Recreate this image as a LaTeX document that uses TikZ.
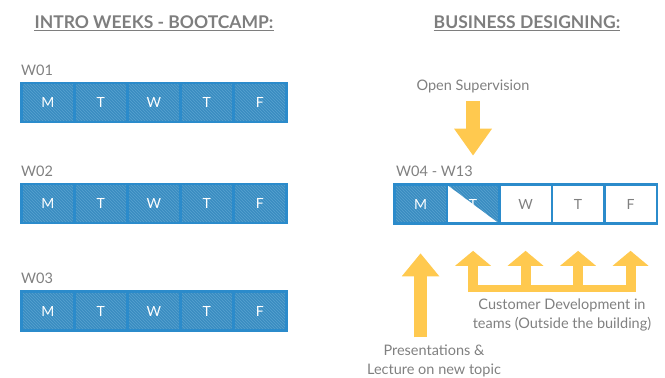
\documentclass[tikz,border=0pt]{standalone}
\usepackage{fontspec}
\setmainfont{Lato}
\usepackage{tikz}
\usetikzlibrary{arrows.meta,patterns,positioning}
\definecolor{edgeblue}{HTML}{2B8BCB}
\definecolor{cellblue}{HTML}{3A8DC1}
\definecolor{stripeblue}{HTML}{58A2D0}
\definecolor{notegray}{HTML}{808080}
\definecolor{headgray}{HTML}{7E7E7E}
\definecolor{arrowyellow}{HTML}{FFC94F}

\begin{document}
\begin{tikzpicture}[x=1pt,y=-1pt,
  daycell/.style={draw=edgeblue,line width=2.6pt,minimum width=53pt,minimum height=39pt,inner sep=0pt,
    text=white,font=\fontsize{14}{16}\selectfont},
  busycell/.style={daycell,preaction={fill=cellblue},pattern=north west lines,pattern color=stripeblue},
  freecell/.style={daycell,fill=white,text=notegray},
  halfcell/.style={daycell,fill=white,path picture={
    \fill[cellblue] (path picture bounding box.north west) -- (path picture bounding box.north east)
      -- (path picture bounding box.south east) -- cycle;
    \fill[pattern=north west lines,pattern color=stripeblue] (path picture bounding box.north west)
      -- (path picture bounding box.north east) -- (path picture bounding box.south east) -- cycle;}},
  note/.style={text=notegray,font=\fontsize{14.5}{19}\selectfont,align=center},
  heading/.style={text=headgray,font=\fontsize{17.5}{20}\selectfont\bfseries,inner xsep=0pt,inner ysep=2pt},
  yarrow/.style={draw=arrowyellow,line width=14pt},
]
\useasboundingbox (0,0) rectangle (665,378);

\node[heading] (introtitle) at (154,22) {INTRO WEEKS - BOOTCAMP:};
\draw[headgray,line width=1pt] (introtitle.south west) -- (introtitle.south east);
\node[heading] (bizztitle) at (527,22) {BUSINESS DESIGNING:};
\draw[headgray,line width=1pt] (bizztitle.south west) -- (bizztitle.south east);

\foreach \wk/\y in {1/102.5,2/203.5,3/311}{
  \foreach \d [count=\i] in {M,T,W,T,F}
    \node[busycell] (w\wk-\i) at ({21.3+26.5+53*(\i-1)},\y) {\d};
  \node[note,anchor=base west,inner sep=0pt] (w\wk-label) at ([xshift=1pt,yshift=6.5pt]w\wk-1.north west) {W0\wk};
}

\foreach \d/\s [count=\i] in {M/busycell,T/halfcell,W/freecell,T/freecell,F/freecell}
  \node[\s,minimum width=52.5pt] (r-\i) at ({394.3+26.25+52.5*(\i-1)},204) {\d};
\node[note,anchor=base west,inner sep=0pt] (r-label) at ([xshift=3pt,yshift=6.5pt]r-1.north west) {W04 - W13};

\node[note] (opensup) at (473,86) {Open Supervision};
\draw[yarrow,-{Triangle[width=36pt,length=27pt]},shorten <=5pt,shorten >=27.5pt]
  (opensup.south -| r-2.north) -- (r-2.north);

\node[note] (present) at (434,361) {Presentations \&\\Lecture on new topic};
\draw[yarrow,line width=13pt,-{Triangle[width=36pt,length=23pt]},shorten <=4pt,shorten >=28.5pt]
  (present.north -| r-1.south) -- (r-1.south);

\coordinate (combbase) at (0,292);
\fill[arrowyellow] ([xshift=-5pt]r-2.south |- combbase) rectangle ([xshift=5pt,yshift=7pt]r-5.south |- combbase);
\foreach \i in {2,...,5}
  \draw[yarrow,line width=10pt,-{Triangle[width=35pt,length=15pt]},shorten >=26pt]
    (r-\i.south |- combbase) -- (r-\i.south);
\node[note] (custdev) at (562,315) {Customer Development in\\teams (Outside the building)};
\end{tikzpicture}
\end{document}
